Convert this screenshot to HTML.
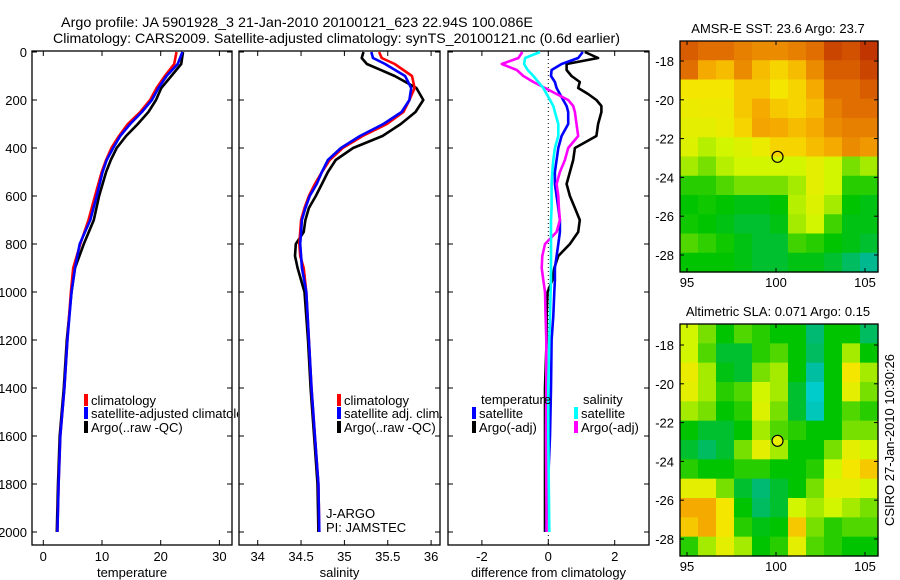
<!DOCTYPE html>
<html><head><meta charset="utf-8"><style>
html,body{margin:0;padding:0;background:#fff;}
svg{display:block;font-family:"Liberation Sans",sans-serif;}
</style></head><body>
<svg id="fig" width="900" height="580" viewBox="0 0 900 580" xmlns="http://www.w3.org/2000/svg">
<defs><clipPath id="p1clip"><rect x="0" y="0" width="238" height="580"/></clipPath></defs>
<text x="61" y="27" font-size="14" textLength="472" lengthAdjust="spacingAndGlyphs">Argo profile: JA 5901928_3 21-Jan-2010 20100121_623 22.94S 100.086E</text>
<text x="53" y="43" font-size="14" textLength="567" lengthAdjust="spacingAndGlyphs">Climatology: CARS2009. Satellite-adjusted climatology: synTS_20100121.nc (0.6d earlier)</text>
</svg>
<script>
// ---------- data ----------
const depths = [0,50,100,150,200,250,300,350,400,450,500,600,700,800,900,1000,1200,1400,1600,1800,2000];
const tempClim = [22.7,22.3,20.7,19.3,18.2,16.5,14.4,12.9,11.6,10.7,9.95,8.8,7.7,6.3,5.1,4.7,4.1,3.6,2.9,2.6,2.4];
const tempSat  = [23.7,22.9,21.0,19.6,18.5,16.8,14.8,13.1,11.9,10.8,10.1,9.1,8.0,6.2,5.4,4.8,4.1,3.6,2.9,2.6,2.4];
const tempArgo = [23.8,23.5,21.8,20.1,19.2,17.9,16.1,14.1,12.5,11.5,10.7,9.5,8.6,6.9,5.4,4.8,4.0,3.5,2.8,2.5,2.3];
const salDepths = [0,25,50,100,150,200,250,300,350,400,450,500,550,600,650,700,750,800,850,900,1000,1200,1400,1600,1800,2000];
const salClim = [35.40,35.43,35.58,35.78,35.81,35.75,35.68,35.49,35.21,34.98,34.83,34.74,34.66,34.59,34.54,34.50,34.49,34.48,34.49,34.53,34.56,34.59,34.62,34.66,34.70,34.71];
const salSat  = [35.31,35.33,35.47,35.70,35.77,35.75,35.66,35.45,35.18,34.96,34.81,34.74,34.68,34.60,34.55,34.51,34.50,34.49,34.50,34.51,34.56,34.59,34.62,34.66,34.70,34.71];
const salArgo = [35.22,35.20,35.26,35.58,35.83,35.91,35.82,35.65,35.44,35.10,34.90,34.81,34.74,34.67,34.59,34.55,34.53,34.44,34.43,34.46,34.54,34.58,34.61,34.65,34.69,34.70];
const diffDepths = [0,25,50,75,100,125,150,175,200,225,250,300,350,400,450,500,550,600,650,700,750,800,850,900,950,1000,1100,1200,1400,1600,2000];
const dTempSat  = [1.04,0.9,0.4,0.1,0.08,0.2,0.25,0.35,0.45,0.55,0.6,0.6,0.4,0.3,0.25,0.2,0.2,0.25,0.3,0.35,0.35,0.3,0.25,0.2,0.2,0.18,0.15,0.1,0.08,0.05,-0.07];
const dTempArgo = [1.1,1.5,0.55,0.55,0.7,0.95,0.9,1.2,1.45,1.6,1.6,1.5,1.45,0.8,0.75,0.65,0.55,0.65,0.8,0.95,0.9,0.65,0.3,0.18,0.12,-0.02,-0.05,-0.05,-0.1,-0.1,-0.1];
const dSalSat   = [-0.25,-0.7,-0.73,-0.62,-0.45,-0.3,-0.15,-0.05,0.05,0.15,0.2,0.3,0.3,0.2,0.15,0.12,0.1,0.1,0.1,0.08,0.08,0.08,0.08,0.08,0.08,0.07,0.05,0.03,0.0,0.0,0.03];
const dSalArgo  = [-0.78,-0.9,-1.4,-0.95,-0.75,-0.45,-0.1,0.25,0.6,0.75,0.8,0.85,0.9,0.6,0.5,0.35,0.25,0.3,0.32,0.35,0.25,-0.1,-0.18,-0.2,-0.15,-0.1,-0.08,-0.06,-0.06,-0.07,-0.05];
const depthTicks = [0,200,400,600,800,1000,1200,1400,1600,1800,2000];
const tempTicks = [0,10,20,30];
const salTicks = [34,34.5,35,35.5,36];
const diffTicks = [-2,0,2];
const latTicks = [-18,-20,-22,-24,-26,-28];
const lonTicks = [95,100,105];
const sstGrid = [
[0.88,0.85,0.85,0.82,0.8,0.8,0.82,0.85,0.92,0.9,0.95],
[0.85,0.75,0.72,0.8,0.72,0.68,0.72,0.8,0.88,0.88,0.92],
[0.65,0.65,0.65,0.7,0.7,0.65,0.68,0.75,0.85,0.85,0.88],
[0.62,0.63,0.63,0.7,0.75,0.7,0.68,0.72,0.82,0.85,0.85],
[0.6,0.6,0.62,0.68,0.76,0.75,0.72,0.75,0.8,0.82,0.82],
[0.58,0.52,0.55,0.58,0.62,0.68,0.68,0.72,0.75,0.8,0.78],
[0.5,0.45,0.52,0.55,0.55,0.55,0.55,0.6,0.55,0.45,0.5],
[0.35,0.35,0.4,0.45,0.45,0.45,0.5,0.6,0.55,0.35,0.35],
[0.3,0.32,0.3,0.28,0.28,0.3,0.52,0.58,0.5,0.3,0.28],
[0.32,0.3,0.28,0.25,0.25,0.28,0.5,0.55,0.38,0.28,0.28],
[0.4,0.36,0.32,0.28,0.25,0.25,0.38,0.35,0.3,0.28,0.25],
[0.3,0.3,0.3,0.28,0.25,0.25,0.28,0.28,0.25,0.2,0.15]];
const slaGrid = [
[0.55,0.45,0.3,0.4,0.35,0.3,0.3,0.18,0.3,0.3,0.2],
[0.55,0.4,0.25,0.25,0.35,0.4,0.3,0.2,0.3,0.5,0.3],
[0.62,0.5,0.28,0.25,0.45,0.5,0.3,0.12,0.3,0.65,0.5],
[0.6,0.5,0.35,0.4,0.55,0.5,0.25,0.05,0.3,0.6,0.45],
[0.5,0.45,0.3,0.35,0.58,0.45,0.25,0.08,0.3,0.4,0.35],
[0.3,0.25,0.25,0.3,0.5,0.4,0.35,0.3,0.3,0.45,0.45],
[0.25,0.2,0.25,0.45,0.6,0.5,0.3,0.3,0.45,0.6,0.55],
[0.35,0.3,0.3,0.35,0.35,0.3,0.3,0.35,0.55,0.65,0.7],
[0.6,0.6,0.45,0.25,0.18,0.25,0.3,0.45,0.6,0.6,0.55],
[0.75,0.75,0.65,0.3,0.2,0.25,0.55,0.5,0.55,0.5,0.45],
[0.7,0.75,0.65,0.35,0.28,0.3,0.7,0.45,0.35,0.4,0.4],
[0.35,0.5,0.6,0.5,0.3,0.35,0.6,0.4,0.35,0.3,0.3]];
const argoLon = 100.086, argoLat = -22.94;

// ---------- helpers ----------
const NS = "http://www.w3.org/2000/svg";
const svg = document.getElementById('fig');
function mk(tag, attrs, parent){
  const e = document.createElementNS(NS, tag);
  for (const k in attrs) e.setAttribute(k, attrs[k]);
  (parent||svg).appendChild(e);
  return e;
}
const yD = d => 52 + d * 0.24;
const P1 = {x0:32, x1:232, fx: v => 43.3 + v * 5.87};
const P2 = {x0:239, x1:440, fx: v => 257.7 + (v - 34) * 86.7};
const P3 = {x0:448, x1:649, fx: v => 548.3 + v * 33.2};
const TOP = 51, BOT = 545;

function panel(P, name, xTicks, xTitle, showY){
  const r = mk('rect', {x:P.x0, y:TOP, width:P.x1-P.x0, height:BOT-TOP, fill:'none', stroke:'#000', 'stroke-width':1.3});
  
  
  depthTicks.forEach(d => {
    const y = yD(d);
    mk('line', {x1:P.x0, x2:P.x0+5, y1:y, y2:y, stroke:'#000'});
    mk('line', {x1:P.x1, x2:P.x1-5, y1:y, y2:y, stroke:'#000'});
    if (showY) {
      const t = mk('text', {x:27, y:y+5, 'font-size':13, 'text-anchor':'end'});
      t.textContent = d;
      
      
    }
  });
  xTicks.forEach(v => {
    const x = P.fx(v);
    mk('line', {x1:x, x2:x, y1:TOP, y2:TOP+5, stroke:'#000'});
    mk('line', {x1:x, x2:x, y1:BOT, y2:BOT-5, stroke:'#000'});
    const t = mk('text', {x:x, y:561, 'font-size':13, 'text-anchor':'middle'});
    t.textContent = v;
    
    
  });
  const tt = mk('text', {x:(P.x0+P.x1)/2, y:577, 'font-size':13, 'text-anchor':'middle'});
  tt.textContent = xTitle;
  
  
}
function series(P, ds, vals, color, name){
  const pts = vals.map((v,i) => P.fx(v).toFixed(1) + ',' + yD(ds[i]).toFixed(1)).join(' ');
  const pl = mk('polyline', {points:pts, fill:'none', stroke:color, 'stroke-width':2.6, 'stroke-linejoin':'round'});
  
  
}
function legend(x, y, color, label, name, parent){
  mk('rect', {x:x, y:y-11, width:4, height:12, fill:color}, parent);
  const t = mk('text', {x:x+7, y:y, 'font-size':13}, parent);
  t.textContent = label;
  
  
}
function txt(x, y, s, name, extra){
  const t = mk('text', Object.assign({x:x, y:y, 'font-size':13}, extra||{}));
  t.textContent = s;
  
  
  return t;
}

// ---------- panel 1: temperature ----------
panel(P1, 'temperature-panel', tempTicks, 'temperature', true);
series(P1, depths, tempArgo, '#000', 'temp-argo-line');
series(P1, depths, tempClim, '#f00', 'temp-climatology-line');
series(P1, depths, tempSat, '#00f', 'temp-satellite-line');
const lg1 = mk('g', {'clip-path':'url(#p1clip)'});


legend(84, 405, '#f00', 'climatology', 'legend-climatology', lg1);
legend(84, 418, '#00f', 'satellite-adjusted climatology', 'legend-satellite-adjusted', lg1);
legend(84, 432, '#000', 'Argo(..raw -QC)', 'legend-argo', lg1);

// ---------- panel 2: salinity ----------
panel(P2, 'salinity-panel', salTicks, 'salinity', false);
series(P2, salDepths, salArgo, '#000', 'sal-argo-line');
series(P2, salDepths, salClim, '#f00', 'sal-climatology-line');
series(P2, salDepths, salSat, '#00f', 'sal-satellite-line');
legend(337, 405, '#f00', 'climatology', 'legend-sal-climatology');
legend(337, 418, '#00f', 'satellite adj. clim.', 'legend-sal-satellite');
legend(337, 432, '#000', 'Argo(..raw -QC)', 'legend-sal-argo');
txt(326, 518, 'J-ARGO', 'dac-label');
txt(326, 532, 'PI: JAMSTEC', 'pi-label');

// ---------- panel 3: difference ----------
panel(P3, 'difference-panel', diffTicks, 'difference from climatology', false);
const zl = mk('line', {x1:P3.fx(0), x2:P3.fx(0), y1:TOP, y2:BOT, stroke:'#000', 'stroke-width':1, 'stroke-dasharray':'1,3'});


series(P3, diffDepths, dTempArgo, '#000', 'diff-temp-argo-line');
series(P3, diffDepths, dTempSat, '#00f', 'diff-temp-satellite-line');
series(P3, diffDepths, dSalArgo, '#f0f', 'diff-sal-argo-line');
series(P3, diffDepths, dSalSat, '#0ff', 'diff-sal-satellite-line');
txt(481, 404, 'temperature', 'legend-temperature-heading');
txt(583, 404, 'salinity', 'legend-salinity-heading');
legend(472, 418, '#00f', 'satellite', 'legend-temp-satellite');
legend(472, 432, '#000', 'Argo(-adj)', 'legend-temp-argo');
legend(574, 418, '#0ff', 'satellite', 'legend-sal-satellite-diff');
legend(574, 432, '#f0f', 'Argo(-adj)', 'legend-sal-argo-diff');

// ---------- maps ----------
const cstops = [[0,[0,216,232]],[0.15,[0,184,144]],[0.3,[0,196,0]],[0.45,[120,224,0]],[0.55,[210,245,0]],[0.65,[245,230,0]],[0.75,[245,170,0]],[0.85,[225,110,0]],[1,[176,24,0]]];
function cmap(v){
  for (let i=1;i<cstops.length;i++){
    if (v <= cstops[i][0]) {
      const a=cstops[i-1], b=cstops[i], f=(v-a[0])/(b[0]-a[0]);
      const c=a[1].map((q,k)=>Math.round(q+(b[1][k]-q)*f));
      return 'rgb('+c.join(',')+')';
    }
  }
  return 'rgb(176,24,0)';
}
function mapPanel(M, grid, name, title, filled){
  const lonX = lon => 776 + (lon - 100) * 17.8;
  const latY = lat => M.y18 + (-18 - lat) * 19.4;
  const rows = grid.length, cols = grid[0].length;
  const cw = (M.x1 - M.x0) / cols, ch = (M.y1 - M.y0) / rows;
  const g = mk('g', {});
  
  
  grid.forEach((row, r) => row.forEach((v, c) => {
    const cell = mk('rect', {x:(M.x0 + c*cw).toFixed(2), y:(M.y0 + r*ch).toFixed(2), width:(cw+0.6).toFixed(2), height:(ch+0.6).toFixed(2), fill:cmap(v)}, g);
    
    
  }));
  const fr = mk('rect', {x:M.x0, y:M.y0, width:M.x1-M.x0, height:M.y1-M.y0, fill:'none', stroke:'#000', 'stroke-width':1.3});
  
  
  latTicks.forEach(lat => {
    const y = latY(lat);
    mk('line', {x1:M.x0, x2:M.x0+4, y1:y, y2:y, stroke:'#000'});
    mk('line', {x1:M.x1, x2:M.x1-4, y1:y, y2:y, stroke:'#000'});
    txt(674, y+5, lat, 'lat-tick-label', {'text-anchor':'end'});
  });
  lonTicks.forEach(lon => {
    const x = lonX(lon);
    mk('line', {x1:x, x2:x, y1:M.y0, y2:M.y0+4, stroke:'#000'});
    mk('line', {x1:x, x2:x, y1:M.y1, y2:M.y1-4, stroke:'#000'});
    txt(x, M.y1+15, lon, 'lon-tick-label', {'text-anchor':'middle'});
  });
  txt(778, M.y0-8, title, name + '-title', {'text-anchor':'middle'});
  const c = mk('circle', {cx:lonX(argoLon), cy:latY(argoLat), r:5.5, fill:filled?'#e8f000':'none', stroke:'#000', 'stroke-width':1.2});
  
  
}
mapPanel({x0:680, x1:878, y0:41, y1:272, y18:61}, sstGrid, 'sst-map', 'AMSR-E SST: 23.6 Argo: 23.7', false);
mapPanel({x0:680, x1:878, y0:324, y1:556, y18:345}, slaGrid, 'sla-map', 'Altimetric SLA: 0.071 Argo: 0.15', true);
txt(0, 0, 'CSIRO 27-Jan-2010 10:30:26', 'timestamp-label', {transform:'translate(894,440) rotate(-90)', 'text-anchor':'middle'});
</script>
</body></html>
